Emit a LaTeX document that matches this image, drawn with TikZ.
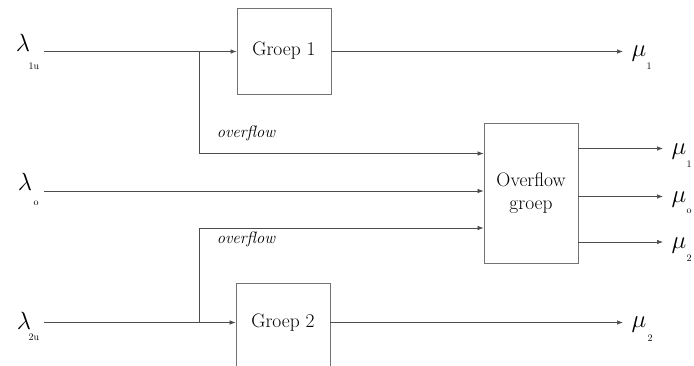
\documentclass[tikz,border=0pt]{standalone}
\usetikzlibrary{arrows.meta}
\begin{document}
\begin{tikzpicture}[x=1pt,y=-1pt,
  box/.style={draw=black!55,line width=0.8pt,minimum width=94pt,minimum height=86pt,inner sep=0pt,font=\fontsize{19.5}{23}\selectfont},
  flow/.style={draw=black!70,line width=0.7pt,-{Latex[length=6pt,width=4.5pt]}},
  seg/.style={draw=black!70,line width=0.7pt},
  lam/.style={inner sep=0pt,font=\fontsize{32}{32}\selectfont},
  mu/.style={inner sep=0pt,font=\fontsize{23}{23}\selectfont},
  sub/.style={inner sep=0pt,font=\fontsize{10}{10}\selectfont},
  ovl/.style={inner sep=0pt,font=\fontsize{16.5}{18}\selectfont\itshape}]
\useasboundingbox (0,0) rectangle (694,365);
% boxes
\node[box] (g1) at (284,51) {Groep 1};
\node[box,minimum height=90pt] (g2) at (283,328) {};
\node[inner sep=0pt,font=\fontsize{19.5}{23}\selectfont] (g2t) at (283,323) {Groep 2};
\node[box,minimum width=94pt,minimum height=140pt,align=center] (ov) at (531,193) {Overflow\\groep};
% input labels
\node[lam] (l1) at (23,43) {$\lambda$};
\node[sub] (l1s) at (34,66) {1u};
\node[lam] (l0) at (25,182) {$\lambda$};
\node[sub] (l0s) at (36,203) {o};
\node[lam] (l2) at (24,321) {$\lambda$};
\node[sub] (l2s) at (34,337) {2u};
% coordinates
\coordinate (s1) at (44,51.5);
\coordinate (s0) at (44,191);
\coordinate (s2) at (44,322.5);
\coordinate (b1) at (199,51.5);
\coordinate (b1d) at (199,153.5);
\coordinate (b2) at (199,322.5);
\coordinate (b2u) at (199,228);
% inputs
\draw[flow] (s1) -- (g1.west |- s1);
\draw[seg] (b1) -- (b1d);
\draw[flow] (b1d) -- (ov.west |- b1d);
\draw[flow] (s0) -- (ov.west |- s0);
\draw[flow] (s2) -- (g2.west |- s2);
\draw[seg] (b2) -- (b2u);
\draw[flow] (b2u) -- (ov.west |- b2u);
\node[ovl] (o1) at (246,133) {overflow};
\node[ovl] (o2) at (246,239) {overflow};
% outputs
\coordinate (e1) at (623,51.5);
\coordinate (e2) at (623,322.5);
\draw[flow] (g1.east |- e1) -- (e1);
\draw[flow] (g2.east |- e2) -- (e2);
\node[mu] (m1) at (639,54) {$\mu$};
\node[sub] (m1s) at (649,66) {1};
\node[mu] (m2) at (639,325) {$\mu$};
\node[sub] (m2s) at (650,338) {2};
\coordinate (f1) at (663,148.5);
\coordinate (f0) at (663,196.5);
\coordinate (f2) at (663,242);
\draw[flow] (ov.east |- f1) -- (f1);
\draw[flow] (ov.east |- f0) -- (f0);
\draw[flow] (ov.east |- f2) -- (f2);
\node[mu] (n1) at (679,152) {$\mu$};
\node[sub] (n1s) at (689,164) {1};
\node[mu] (n0) at (679,200) {$\mu$};
\node[sub] (n0s) at (689,211) {o};
\node[mu] (n2) at (679,246) {$\mu$};
\node[sub] (n2s) at (689,258) {2};
\end{tikzpicture}
\end{document}
